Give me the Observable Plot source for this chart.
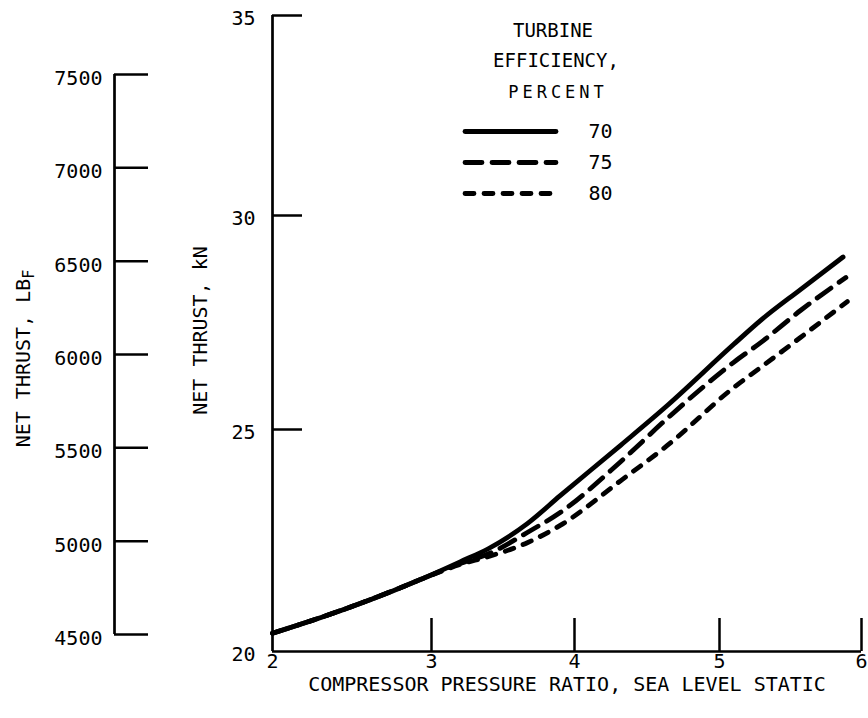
<!DOCTYPE html>
<html>
<head>
<meta charset="utf-8">
<script src="https://cdn.jsdelivr.net/npm/d3@7"></script>
<script src="https://cdn.jsdelivr.net/npm/@observablehq/plot@0.6"></script>
<style>
  html, body { margin: 0; padding: 0; background: #fff; }
  #chart { position: relative; width: 868px; height: 718px; background: #fff; }
  #chart svg { position: absolute; left: 0; top: 0; background: transparent; }
</style>
</head>
<body>
<div id="chart"></div>
<script>
// Net thrust vs. compressor pressure ratio (sea level static) for three turbine efficiencies.
const efficiencies = ["70", "75", "80"];

const ratio70  = [2.0, 2.34, 2.76, 2.93, 3.2, 3.4, 3.67, 3.9, 4.32, 4.64, 5.1, 5.29, 5.57, 5.87];
const thrust70 = [20.41, 20.81, 21.37, 21.62, 22.02, 22.32, 22.88, 23.51, 24.65, 25.56, 26.99, 27.55, 28.27, 29.03];

const ratio75  = [2.0, 2.34, 2.76, 2.93, 3.2, 3.4, 3.67, 3.9, 4.32, 4.64, 5.1, 5.29, 5.57, 5.89];
const thrust75 = [20.41, 20.81, 21.37, 21.62, 21.98, 22.2, 22.68, 23.13, 24.28, 25.26, 26.57, 27.03, 27.78, 28.55];

const ratio80  = [2.0, 2.34, 2.76, 2.93, 3.2, 3.4, 3.67, 3.9, 4.32, 4.64, 5.1, 5.29, 5.57, 5.9];
const thrust80 = [20.41, 20.81, 21.37, 21.62, 21.96, 22.14, 22.45, 22.84, 23.85, 24.64, 25.98, 26.45, 27.15, 27.99];

const ratioTicks = [2, 3, 4, 5, 6];
const thrustKNTicks = [20, 25, 30, 35];
const thrustLbfTicks = [4500, 5000, 5500, 6000, 6500, 7000, 7500];

const xTitle = "COMPRESSOR PRESSURE RATIO, SEA LEVEL STATIC";
const yTitleKN = "NET THRUST, kN";
const yTitleLbf = "NET THRUST, LBF";
const legendTitle = ["TURBINE", "EFFICIENCY,", "PERCENT"];

// ---- drawing ----
const W = 868, H = 718;
const font = "'DejaVu Sans Mono', monospace";
const ink = "#000";
const dash = {"70": null, "75": "17,10", "80": "9,10"};
const baseStyle = {fontFamily: font, background: "transparent", color: ink, overflow: "visible"};
const plain = d => String(d);
const centered = {textAnchor: "middle", lineAnchor: "middle", fill: ink};

const rows = (eff, xs, ys) => xs.map((x, i) => ({eff, ratio: x, thrust: ys[i]}));
const curves = {
  "70": rows("70", ratio70, thrust70),
  "75": rows("75", ratio75, thrust75),
  "80": rows("80", ratio80, thrust80)
};

const chart = document.getElementById("chart");

// Main axes: kN against pressure ratio (hand-drawn grid spacing kept via piecewise scales)
const main = Plot.plot({
  width: W, height: H,
  marginLeft: 272, marginRight: 7, marginTop: 15, marginBottom: 67,
  style: baseStyle,
  x: {type: "linear", domain: ratioTicks, range: [272, 431, 574, 719, 861]},
  y: {type: "linear", domain: thrustKNTicks, range: [651, 429, 215, 15]},
  marks: [
    Plot.ruleX([2], {y1: 20, y2: 35, stroke: ink, strokeWidth: 2.7}),
    Plot.ruleY([20], {x1: 2, x2: 6, stroke: ink, strokeWidth: 2.7}),
    Plot.ruleY(thrustKNTicks.slice(1), {insetRight: 559, stroke: ink, strokeWidth: 2.5}),
    Plot.ruleX(ratioTicks.slice(1), {insetTop: 603, stroke: ink, strokeWidth: 2.5}),
    Plot.axisX({ticks: ratioTicks, tickFormat: plain, tickSize: 0, tickPadding: 2, fontSize: 20, label: null}),
    Plot.axisY({ticks: thrustKNTicks, tickFormat: plain, tickSize: 0, tickPadding: 17, dy: 3, fontSize: 20, label: null}),
    ...["80", "75", "70"].map(e => Plot.line(curves[e], {
      x: "ratio", y: "thrust", curve: "monotone-x",
      stroke: ink, strokeWidth: 4.8,
      strokeDasharray: dash[e], strokeLinecap: "round", strokeLinejoin: "round"
    })),
    Plot.text([xTitle], {frameAnchor: "bottom", dy: 33, fontSize: 20, ...centered}),
    Plot.text([yTitleKN], {frameAnchor: "left", dx: -72, dy: -3, rotate: -90, fontSize: 20, ...centered})
  ]
});
chart.appendChild(main);

// Secondary scale in pounds-force
const lbf = Plot.plot({
  width: W, height: H,
  marginLeft: 114, marginRight: W - 148, marginTop: 74, marginBottom: H - 634,
  style: baseStyle,
  x: {domain: [0, 1], axis: null},
  y: {domain: [4500, 7500], axis: null},
  marks: [
    Plot.ruleX([0], {y1: 4500, y2: 7500, stroke: ink, strokeWidth: 2.7}),
    Plot.ruleY(thrustLbfTicks, {x1: 0, x2: 1, stroke: ink, strokeWidth: 2.5}),
    Plot.text(thrustLbfTicks, {x: 0, y: d => d, text: plain, dx: -12, dy: 4, textAnchor: "end", fontSize: 20, fill: ink}),
    Plot.text([yTitleLbf], {frameAnchor: "left", dx: -91, dy: 4, rotate: -90, fontSize: 20, ...centered})
  ]
});
chart.appendChild(lbf);

// Write "LBF" with a subscript F
d3.select(lbf).selectAll("text")
  .filter(function () { return this.textContent === yTitleLbf; })
  .each(function () {
    const t = d3.select(this);
    t.text(yTitleLbf.slice(0, -1));
    t.append("tspan").attr("dy", "0.3em").attr("font-size", 15).text(yTitleLbf.slice(-1));
  });

// Legend
const legend = Plot.plot({
  width: W, height: H,
  marginLeft: 465, marginRight: W - 556, marginTop: 130, marginBottom: H - 193,
  style: baseStyle,
  x: {domain: [0, 1], axis: null},
  y: {type: "point", domain: efficiencies, padding: 0, axis: null},
  marks: [
    ...efficiencies.map(e => Plot.ruleY([e], {
      x1: 0, x2: 1, stroke: ink, strokeWidth: 4.8,
      strokeDasharray: dash[e], strokeLinecap: "round"
    })),
    Plot.text(efficiencies, {x: 1, y: d => d, dx: 32, textAnchor: "start", fontSize: 20, fill: ink}),
    Plot.text([legendTitle[0]], {frameAnchor: "top", dx: 42, dy: -100, fontSize: 19, ...centered}),
    Plot.text([legendTitle[1]], {frameAnchor: "top", dx: 45, dy: -70, fontSize: 19, ...centered}),
    Plot.text([legendTitle[2]], {frameAnchor: "top", dx: 47, dy: -38, fontSize: 17, ...centered})
  ]
});
chart.appendChild(legend);

// Spaced-out lettering on the last legend heading line
d3.select(legend).selectAll("text")
  .filter(function () { return this.textContent === legendTitle[2]; })
  .style("letter-spacing", "4px");
</script>
</body>
</html>
